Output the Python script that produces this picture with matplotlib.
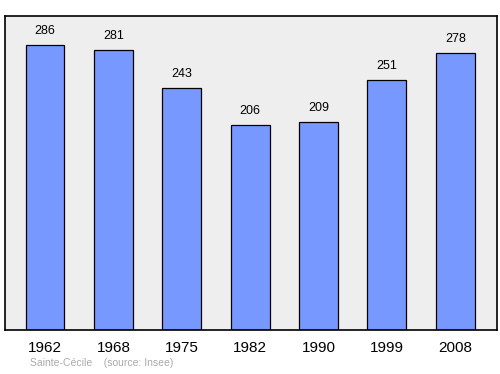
import matplotlib
matplotlib.use('Agg')
import matplotlib.pyplot as plt

plt.rcParams['font.family'] = ['Liberation Sans', 'DejaVu Sans']

years = ['1962', '1968', '1975', '1982', '1990', '1999', '2008']
population = [286, 281, 243, 206, 209, 251, 278]

fig = plt.figure(figsize=(5, 3.74), dpi=100)
ax = fig.add_axes([0.01, 0.1176, 0.984, 0.84])
ax.set_facecolor('#eeeeee')

x = range(len(years))
ax.bar(x, population, width=0.57, color='#7799ff', edgecolor='black', linewidth=0.9)
for xi, v in zip(x, population):
    ax.text(xi, v + 8, str(v), ha='center', va='bottom', fontsize=9)

ax.set_xlim(-0.585, 6.61)
ax.set_ylim(0, 315)
ax.set_yticks([])
ax.set_xticks(list(x))
ax.set_xticklabels(years, fontsize=11)
ax.tick_params(axis='x', length=0, pad=8)
for s in ax.spines.values():
    s.set_linewidth(1.2)

fig.text(0.06, 0.022, 'Sainte-Cécile    (source: Insee)', fontsize=7.5, color='#aaaaaa')

fig.savefig('out.png', dpi=100)
